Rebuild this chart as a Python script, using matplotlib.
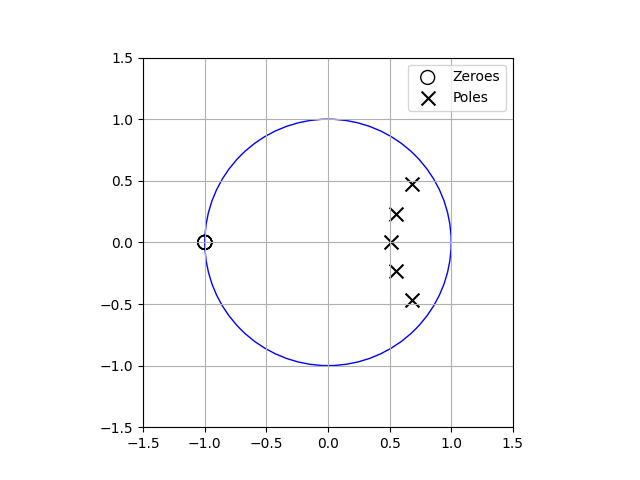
import numpy as np
import matplotlib
matplotlib.use('Agg')
import matplotlib.pyplot as plt
from matplotlib import patches

# zeros and poles
zeros_re = [-1.0, -1.0, -1.0, -1.0, -1.0]
zeros_im = [0.0, 0.0, 0.0, 0.0, 0.0]
poles_re = [0.68, 0.553, 0.51, 0.553, 0.68]
poles_im = [0.47, 0.23, 0.0, -0.23, -0.47]

fig = plt.figure(figsize=(6.4, 4.8), dpi=100)
ax = plt.subplot(111)

# unit circle
uc = patches.Circle((0, 0), radius=1, fill=False, color='blue', ls='solid')
ax.add_patch(uc)

plt.scatter(zeros_re, zeros_im, s=100, marker='o', facecolors='none', edgecolors='k', label='Zeroes')
plt.scatter(poles_re, poles_im, s=100, marker='x', color='k', label='Poles')

plt.xlim(-1.5, 1.5)
plt.ylim(-1.5, 1.5)
ax.set_aspect('equal')
plt.xticks([-1.5, -1.0, -0.5, 0.0, 0.5, 1.0, 1.5])
plt.yticks([-1.5, -1.0, -0.5, 0.0, 0.5, 1.0, 1.5])
plt.grid(True)
plt.legend(loc='upper right')

plt.savefig('out.png')
